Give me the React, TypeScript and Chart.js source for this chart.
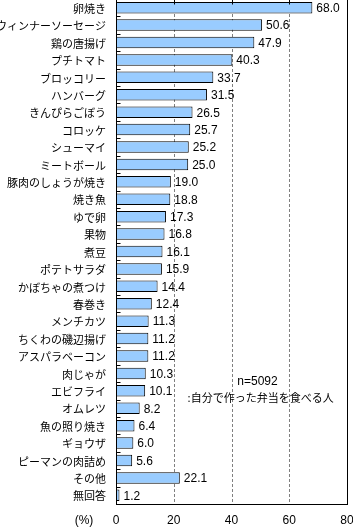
import React, { useEffect, useRef } from "react";
import { Chart, registerables } from "chart.js";

Chart.register(...registerables);

const categories = [
  "卵焼き",
  "ウィンナーソーセージ",
  "鶏の唐揚げ",
  "プチトマト",
  "ブロッコリー",
  "ハンバーグ",
  "きんぴらごぼう",
  "コロッケ",
  "シューマイ",
  "ミートボール",
  "豚肉のしょうが焼き",
  "焼き魚",
  "ゆで卵",
  "果物",
  "煮豆",
  "ポテトサラダ",
  "かぼちゃの煮つけ",
  "春巻き",
  "メンチカツ",
  "ちくわの磯辺揚げ",
  "アスパラベーコン",
  "肉じゃが",
  "エビフライ",
  "オムレツ",
  "魚の照り焼き",
  "ギョウザ",
  "ピーマンの肉詰め",
  "その他",
  "無回答",
];

const values = [
  68.0, 50.6, 47.9, 40.3, 33.7, 31.5, 26.5, 25.7, 25.2, 25.0, 19.0, 18.8, 17.3,
  16.8, 16.1, 15.9, 14.4, 12.4, 11.3, 11.2, 11.2, 10.3, 10.1, 8.2, 6.4, 6.0, 5.6,
  22.1, 1.2,
];

const xTicks = [0, 20, 40, 60, 80];
const unitLabel = "(%)";
const noteLines = ["n=5092", ":自分で作った弁当を食べる人"];

const JP = '"Noto Sans CJK JP", sans-serif';
const LAT = '"Liberation Sans", sans-serif';

const decorPlugin = {
  id: "decor",
  beforeDatasetsDraw(chart: any) {
    const { ctx, chartArea, scales } = chart;
    const xs = scales.x;
    ctx.save();
    ctx.strokeStyle = "#808080";
    ctx.lineWidth = 1;
    ctx.setLineDash([3, 2]);
    xTicks.forEach((t) => {
      if (t === xTicks[0] || t === xTicks[xTicks.length - 1]) return;
      const x = Math.round(xs.getPixelForValue(t)) + 0.5;
      ctx.beginPath();
      ctx.moveTo(x, chartArea.top);
      ctx.lineTo(x, chartArea.bottom);
      ctx.stroke();
    });
    ctx.restore();
  },
  afterDatasetsDraw(chart: any) {
    const { ctx, chartArea, scales } = chart;
    const xs = scales.x;
    const ys = scales.y;
    ctx.save();
    ctx.strokeStyle = "#000";
    ctx.lineWidth = 1;
    ctx.setLineDash([]);
    const l = Math.round(chartArea.left) + 0.5;
    const r = Math.round(chartArea.right) + 0.5;
    const t = Math.round(chartArea.top) + 0.5;
    const b = Math.round(chartArea.bottom) + 0.5;
    ctx.strokeRect(l, t, r - l, b - t);
    xTicks.forEach((v) => {
      if (v === xTicks[0] || v === xTicks[xTicks.length - 1]) return;
      const x = Math.round(xs.getPixelForValue(v)) + 0.5;
      ctx.beginPath();
      ctx.moveTo(x, t);
      ctx.lineTo(x, t + 5);
      ctx.stroke();
    });
    for (let i = 0; i < categories.length - 1; i++) {
      const y =
        Math.round((ys.getPixelForValue(i) + ys.getPixelForValue(i + 1)) / 2) + 0.5;
      ctx.beginPath();
      ctx.moveTo(l, y);
      ctx.lineTo(l + 4, y);
      ctx.stroke();
    }
    ctx.fillStyle = "#000";
    // category labels
    ctx.font = "11px " + JP;
    ctx.textAlign = "right";
    ctx.textBaseline = "middle";
    categories.forEach((c, i) => {
      ctx.fillText(c, chartArea.left - 10, ys.getPixelForValue(i) + 1);
    });
    // value labels
    ctx.font = '12px "Liberation Sans Narrow", "Liberation Sans", sans-serif';
    ctx.textAlign = "left";
    values.forEach((v, i) => {
      const x = xs.getPixelForValue(v) + 4;
      const y = ys.getPixelForValue(i) + 1;
      ctx.fillText(v.toFixed(1), x, y);
    });
    // x tick labels
    ctx.font = "12px " + LAT;
    ctx.textAlign = "center";
    xTicks.forEach((v) => {
      ctx.fillText(String(v), xs.getPixelForValue(v), b + 16);
    });
    ctx.fillText(unitLabel, 84, b + 16);
    // note
    const ny = (ys.getPixelForValue(21) + ys.getPixelForValue(22)) / 2;
    ctx.fillText(noteLines[0], xs.getPixelForValue(49), ny);
    ctx.font = "11px " + JP;
    ctx.textAlign = "left";
    ctx.fillText(noteLines[1], xs.getPixelForValue(24.8), ny + 16);
    ctx.restore();
  },
};

export default function App() {
  const ref = useRef<HTMLCanvasElement | null>(null);
  useEffect(() => {
    if (!ref.current) return;
    const chart = new Chart(ref.current, {
      type: "bar",
      data: {
        labels: categories,
        datasets: [
          {
            data: values,
            backgroundColor: "#99CCFF",
            borderColor: "#000000",
            borderWidth: 1,
            borderSkipped: false,
            categoryPercentage: 1,
            barPercentage: 0.66,
          },
        ],
      },
      options: {
        indexAxis: "y",
        animation: false,
        responsive: false,
        maintainAspectRatio: false,
        devicePixelRatio: 1,
        layout: { padding: { top: 0, right: 6, bottom: 0, left: 0 } },
        plugins: {
          legend: { display: false },
          tooltip: { enabled: false },
        },
        scales: {
          x: {
            type: "linear",
            min: 0,
            max: 80,
            grid: { display: false, drawTicks: false },
            border: { display: false },
            ticks: { display: false },
            afterFit: (s: any) => {
              s.height = 23;
            },
          },
          y: {
            type: "category",
            grid: { display: false, drawTicks: false },
            border: { display: false },
            ticks: { display: false },
            afterFit: (s: any) => {
              s.width = 116;
            },
          },
        },
      },
      plugins: [decorPlugin],
    } as any);
    return () => chart.destroy();
  }, []);
  return (
    <div style={{ position: "absolute", left: 0, top: -1, width: 353, height: 528 }}>
      <canvas ref={ref} width={353} height={528} style={{ display: "block" }} />
    </div>
  );
}
